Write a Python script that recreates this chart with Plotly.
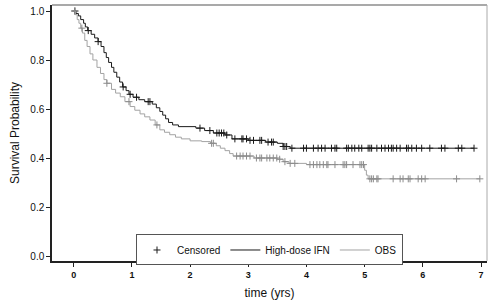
import numpy as np
import plotly.graph_objects as go

# ---- Data ----
ifn_t = [0.0, 0.04, 0.08, 0.12, 0.17, 0.20, 0.24, 0.30, 0.36, 0.42, 0.47, 0.52, 0.56, 0.60,
         0.65, 0.69, 0.74, 0.79, 0.84, 0.90, 0.95, 1.02, 1.12, 1.22, 1.35, 1.42, 1.48, 1.53,
         1.58, 1.63, 1.70, 1.80, 2.10, 2.25, 2.40, 2.60, 2.72, 3.00, 3.30, 3.50, 3.60, 3.72, 6.88]
ifn_s = [1.0, 0.99, 0.98, 0.965, 0.95, 0.935, 0.92, 0.905, 0.89, 0.875, 0.855, 0.83, 0.81, 0.79,
         0.77, 0.75, 0.73, 0.71, 0.69, 0.675, 0.66, 0.648, 0.638, 0.63, 0.62, 0.605, 0.59, 0.575,
         0.56, 0.545, 0.535, 0.528, 0.522, 0.512, 0.502, 0.494, 0.478, 0.472, 0.465, 0.46, 0.447, 0.44, 0.44]

obs_t = [0.0, 0.03, 0.06, 0.09, 0.12, 0.15, 0.19, 0.23, 0.28, 0.33, 0.40, 0.46, 0.52, 0.57,
         0.65, 0.72, 0.80, 0.88, 0.97, 1.05, 1.14, 1.22, 1.31, 1.40, 1.48, 1.56, 1.65, 1.75,
         1.85, 2.00, 2.20, 2.35, 2.45, 2.52, 2.60, 2.68, 2.74, 3.10, 3.50, 3.60, 3.70, 4.00,
         5.00, 5.03, 5.06, 6.98]
obs_s = [1.0, 0.985, 0.965, 0.95, 0.93, 0.91, 0.88, 0.855, 0.825, 0.80, 0.77, 0.745, 0.72, 0.705,
         0.68, 0.665, 0.65, 0.63, 0.61, 0.595, 0.58, 0.568, 0.555, 0.535, 0.515, 0.505, 0.495, 0.485,
         0.478, 0.47, 0.467, 0.46, 0.45, 0.44, 0.43, 0.418, 0.408, 0.40, 0.395, 0.385, 0.378, 0.373,
         0.35, 0.33, 0.315, 0.315]

ifn_cens = [0.02, 0.25, 0.42, 0.85, 0.97, 1.08, 1.28, 1.31, 2.17, 2.34, 2.46, 2.50, 2.54, 2.58,
            2.63, 2.77, 2.89, 2.91, 2.97, 3.03, 3.09, 3.20, 3.23, 3.34, 3.40, 3.43, 3.60, 3.63,
            3.66, 3.75, 3.95, 4.00, 4.12, 4.20, 4.26, 4.32, 4.43, 4.49, 4.52, 4.69, 4.72, 4.78,
            4.83, 4.90, 4.95, 5.06, 5.09, 5.12, 5.21, 5.29, 5.35, 5.41, 5.46, 5.49, 5.55, 5.61,
            5.72, 5.75, 5.81, 5.89, 5.98, 6.12, 6.32, 6.38, 6.61, 6.67, 6.88]
obs_cens = [0.02, 0.14, 0.57, 0.95, 1.43, 2.37, 2.40, 2.80, 2.86, 2.91, 2.97, 3.03, 3.14, 3.20,
            3.23, 3.32, 3.37, 3.43, 3.49, 3.54, 3.63, 3.72, 3.80, 4.06, 4.12, 4.18, 4.23, 4.29,
            4.35, 4.37, 4.49, 4.63, 4.66, 4.69, 4.80, 4.92, 4.95, 4.98, 5.09, 5.12, 5.15, 5.21,
            5.23, 5.49, 5.61, 5.66, 5.75, 5.78, 5.92, 5.98, 6.04, 6.58, 6.98]

x_ticks = [0, 1, 2, 3, 4, 5, 6, 7]
y_ticks = [0.0, 0.2, 0.4, 0.6, 0.8, 1.0]
y_ticklabels = ["0.0", "0.2", "0.4", "0.6", "0.8", "1.0"]

BLACK = "#1a1a1a"
GRAY = "#a3a3a3"
FONT = "Liberation Sans, Arial, sans-serif"


def step_value(ts, ss, x):
    idx = np.searchsorted(np.asarray(ts), np.asarray(x), side="right") - 1
    return np.asarray(ss)[np.clip(idx, 0, len(ss) - 1)]


fig = go.Figure()

fig.add_trace(go.Scatter(x=ifn_cens, y=step_value(ifn_t, ifn_s, ifn_cens), mode="markers",
                         name="Censored", legendrank=1,
                         marker=dict(symbol="cross-thin", size=5, line=dict(color=BLACK, width=1))))
fig.add_trace(go.Scatter(x=ifn_t, y=ifn_s, mode="lines", line=dict(shape="hv", color=BLACK, width=1),
                         name="High-dose IFN", legendrank=2))
fig.add_trace(go.Scatter(x=obs_t, y=obs_s, mode="lines", line=dict(shape="hv", color=GRAY, width=1),
                         name="OBS", legendrank=3))
fig.add_trace(go.Scatter(x=obs_cens, y=step_value(obs_t, obs_s, obs_cens), mode="markers",
                         showlegend=False,
                         marker=dict(symbol="cross-thin", size=5, line=dict(color="#8c8c8c", width=1))))

fig.update_layout(
    width=493, height=305,
    margin=dict(l=52, r=6, t=5, b=44),
    paper_bgcolor="white", plot_bgcolor="white",
    font=dict(family=FONT, color="#111"),
    showlegend=True,
    legend=dict(orientation="h", x=0.5, xanchor="center", y=0.043, yanchor="middle",
                bgcolor="white", bordercolor="#555", borderwidth=1,
                font=dict(size=10, family=FONT), itemwidth=30, tracegroupgap=0),
    xaxis=dict(range=[-0.373, 7.103], tickvals=x_ticks, ticks="outside", ticklen=4,
               tickcolor="#222", showline=True, linecolor="#222", linewidth=1.5,
               showgrid=False, zeroline=False,
               tickfont=dict(size=9, family=FONT, weight="bold"),
               title=dict(text="time (yrs)", font=dict(size=12, family=FONT), standoff=10)),
    yaxis=dict(range=[-0.0204, 1.0245], tickvals=y_ticks, ticktext=y_ticklabels, ticks="outside",
               ticklen=4, tickcolor="#222", showline=True, linecolor="#222", linewidth=1.5,
               showgrid=False, zeroline=False, tickfont=dict(size=10, family=FONT),
               title=dict(text="Survival Probability", font=dict(size=12, family=FONT), standoff=8)),
    shapes=[
        dict(type="line", xref="paper", yref="paper", x0=0, x1=1, y0=1, y1=1,
             line=dict(color="#555", width=1.2)),
        dict(type="line", xref="paper", yref="paper", x0=1, x1=1, y0=0, y1=1,
             line=dict(color="#aaa", width=1)),
    ],
)

fig.write_html("out.html")
